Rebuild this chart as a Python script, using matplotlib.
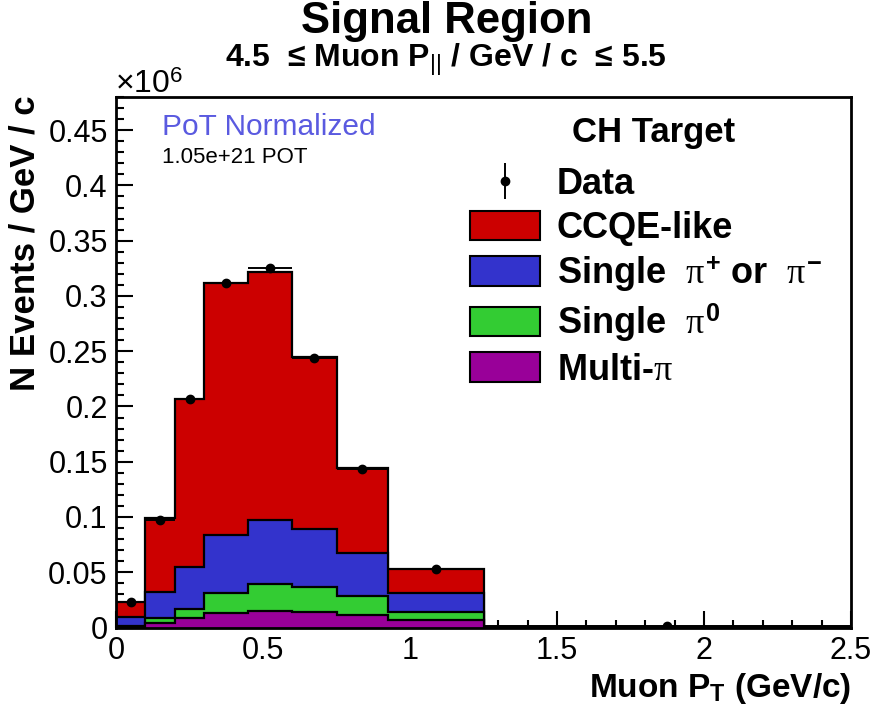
import matplotlib
matplotlib.use("Agg")
import matplotlib.pyplot as plt
import numpy as np
from matplotlib.patches import Patch

plt.rcParams['font.family'] = ['Liberation Sans', 'DejaVu Sans']
plt.rcParams['mathtext.fontset'] = 'custom'
plt.rcParams['mathtext.rm'] = 'Liberation Sans'
plt.rcParams['mathtext.it'] = 'Liberation Serif'
plt.rcParams['mathtext.bf'] = 'Liberation Sans:bold'

# ---- data (units of 10^6 events / GeV / c) ----
edges = [0, 0.1, 0.2, 0.3, 0.45, 0.6, 0.75, 0.925, 1.25, 2.5]
multi_pi = [0.0008, 0.0038, 0.0083, 0.0128, 0.0149, 0.0143, 0.0113, 0.0068, 0.0001]
single_pi0 = [0.0010, 0.0045, 0.0084, 0.0186, 0.0244, 0.0225, 0.0171, 0.0075, 0.0000]
single_pipm = [0.0079, 0.0235, 0.0382, 0.0521, 0.0577, 0.0521, 0.0386, 0.0166, 0.0001]
ccqe_like = [0.0130, 0.0673, 0.1520, 0.2286, 0.2248, 0.1555, 0.0773, 0.0219, 0.0001]
data = [0.0227, 0.0970, 0.2069, 0.3121, 0.3257, 0.2439, 0.1437, 0.0528, 0.0015]
data_err = [0.0008, 0.0015, 0.0022, 0.0025, 0.0026, 0.0023, 0.0018, 0.0008, 0.0002]

xticks = [0, 0.5, 1, 1.5, 2, 2.5]
xticklabels = ["0", "0.5", "1", "1.5", "2", "2.5"]
yticks = [0, 0.05, 0.1, 0.15, 0.2, 0.25, 0.3, 0.35, 0.4, 0.45]
yticklabels = ["0", "0.05", "0.1", "0.15", "0.2", "0.25", "0.3", "0.35", "0.4", "0.45"]

components = [
    ("CCQE-like", ccqe_like, "#cc0000"),
    (r"Single  $\pi^{\mathbf{+}}$ or  $\pi^{\mathbf{-}}$", single_pipm, "#3333cc"),
    (r"Single  $\pi^{\mathbf{0}}$", single_pi0, "#33cc33"),
    (r"Multi-$\pi$", multi_pi, "#990099"),
]

fig = plt.figure(figsize=(8.96, 7.22), dpi=100)
ax = fig.add_axes([116/896, 1 - 627.5/722, 735/896, 530.5/722])

edges_a = np.array(edges)
# stacked: draw cumulative totals from the top down (ROOT THStack style)
stack_order = [multi_pi, single_pi0, single_pipm, ccqe_like]
cums = np.cumsum(np.array(stack_order), axis=0)
colors_bottom_up = ["#990099", "#33cc33", "#3333cc", "#cc0000"]
for i in range(len(stack_order) - 1, -1, -1):
    ax.stairs(cums[i], edges_a, baseline=0, fill=True,
              facecolor=colors_bottom_up[i], edgecolor='black', linewidth=1.6, zorder=2)

centers = 0.5 * (edges_a[:-1] + edges_a[1:])
ax.hlines(data, edges_a[:-1], edges_a[1:], color='black', linewidth=1.4, zorder=3)
ax.errorbar(centers, data, yerr=data_err, fmt='o', color='black', markersize=6,
            elinewidth=1.4, capsize=0, zorder=4, label='Data')

ax.set_xlim(0, 2.5)
ax.set_ylim(0, 0.48)
ax.set_xticks(xticks)
ax.set_xticklabels(xticklabels)
ax.set_yticks(yticks)
ax.set_yticklabels(yticklabels)
ax.xaxis.set_minor_locator(matplotlib.ticker.MultipleLocator(0.1))
ax.yaxis.set_minor_locator(matplotlib.ticker.MultipleLocator(0.01))
ax.tick_params(which='both', direction='in', top=False, right=False, width=1.5, labelsize=22)
ax.tick_params(which='major', length=12, pad=6)
ax.tick_params(which='minor', length=6)
for s in ax.spines.values():
    s.set_linewidth(2)

ax.set_xlabel(r"Muon P$_{\mathbf{T}}$ (GeV/c)", fontsize=24, fontweight='bold', loc='right')
ax.xaxis.set_label_coords(1.0, -0.082)
ax.set_ylabel("N Events / GeV / c", fontsize=25, fontweight='bold', loc='top')
ax.yaxis.set_label_coords(-0.101, 1.004)

fig.text(447/896, 1 - 33/722, "Signal Region", ha='center', va='baseline', fontsize=31.5, fontweight='bold')
fig.text(446/896, 1 - 66.5/722, r"4.5  ≤ Muon P$_{||}$ / GeV / c  ≤ 5.5", ha='center', va='baseline',
         fontsize=23, fontweight='bold')
fig.text(115/896, 1 - 93/722, r"$\times$10$^{6}$", ha='left', va='baseline', fontsize=23)
fig.text(162/896, 1 - 135/722, "PoT Normalized", ha='left', va='baseline', fontsize=21.5, color='#5a5ae0')
fig.text(162/896, 1 - 163/722, "1.05e+21 POT", ha='left', va='baseline', fontsize=16)
fig.text(654/896, 1 - 142/722, "CH Target", ha='center', va='baseline', fontsize=25, fontweight='bold')

handles, labels = ax.get_legend_handles_labels()
for lab, vals, col in components:
    handles.append(Patch(facecolor=col, edgecolor='black', linewidth=1.5))
    labels.append(lab)
leg = fig.legend(handles, labels, loc='upper left', bbox_to_anchor=(470/896, 1 - 167/722),
                 frameon=False,
                 prop={'size': 26, 'weight': 'bold'},
                 handlelength=1.94, handleheight=0.89, labelspacing=0.23, handletextpad=0.46,
                 borderaxespad=0, borderpad=0)

fig.savefig("out.png", dpi=100)
